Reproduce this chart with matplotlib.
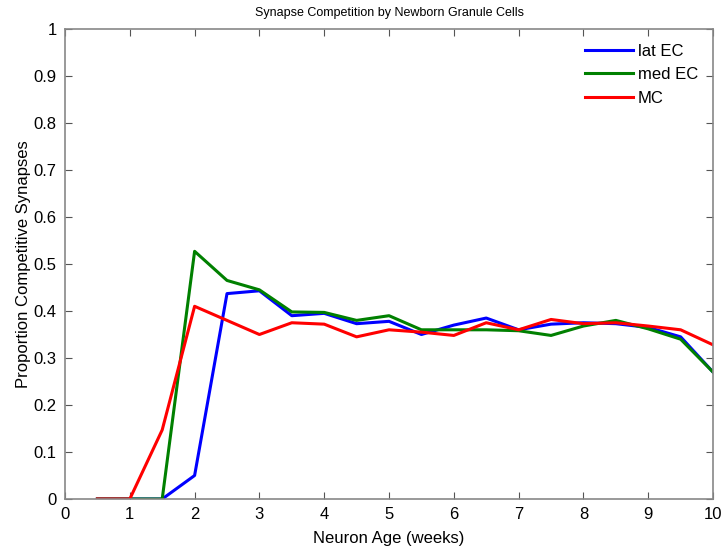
import matplotlib
matplotlib.use("Agg")
import matplotlib.pyplot as plt

plt.rcParams['font.family'] = ['Liberation Sans', 'DejaVu Sans']

age = [0.5, 1, 1.5, 2, 2.5, 3, 3.5, 4, 4.5, 5, 5.5, 6, 6.5, 7, 7.5, 8, 8.5, 9, 9.5, 10]
lat_ec = [0, 0, 0, 0.05, 0.437, 0.443, 0.39, 0.395, 0.373, 0.378, 0.35, 0.37, 0.385, 0.36,
          0.372, 0.375, 0.373, 0.365, 0.345, 0.27]
med_ec = [0, 0, 0, 0.527, 0.465, 0.445, 0.398, 0.397, 0.38, 0.39, 0.36, 0.36, 0.36, 0.358,
          0.348, 0.368, 0.38, 0.362, 0.34, 0.27]
mc = [0, 0, 0.147, 0.41, 0.38, 0.35, 0.375, 0.372, 0.345, 0.36, 0.355, 0.348, 0.375, 0.36,
      0.382, 0.373, 0.375, 0.368, 0.36, 0.328]

xticks = list(range(0, 11))
yticks = [0, 0.1, 0.2, 0.3, 0.4, 0.5, 0.6, 0.7, 0.8, 0.9, 1]
ytick_labels = ['0', '0.1', '0.2', '0.3', '0.4', '0.5', '0.6', '0.7', '0.8', '0.9', '1']

fig = plt.figure(figsize=(7.27, 5.52), dpi=100)
ax = fig.add_axes([0.0894, 0.096, 0.8914, 0.8515])

ax.plot(age, lat_ec, color='#0000ff', lw=2.2, label='lat EC')
ax.plot(age, med_ec, color='#008000', lw=2.2, label='med EC')
ax.plot(age, mc, color='#ff0000', lw=2.2, label='MC')

ax.set_xlim(0, 10)
ax.set_ylim(0, 1)
ax.set_xticks(xticks)
ax.set_yticks(yticks)
ax.set_yticklabels(ytick_labels)
ax.tick_params(direction='in', length=5, width=0.8, color='#555555', labelsize=12,
               top=True, right=True, pad=6)
for s in ax.spines.values():
    s.set_color('#888888')
    s.set_linewidth(1.2)

ax.set_xlabel('Neuron Age (weeks)', fontsize=12, labelpad=6)
ax.set_ylabel('Proportion Competitive Synapses', fontsize=12, labelpad=2)
ax.set_title('Synapse Competition by Newborn Granule Cells', fontsize=9, pad=9)

leg = ax.legend(loc='upper right', frameon=False, fontsize=12, handlelength=2.9,
                handletextpad=0.3, labelspacing=0.5, borderaxespad=0.3,
                bbox_to_anchor=(0.995, 0.993))

fig.savefig('out.png', dpi=100)
